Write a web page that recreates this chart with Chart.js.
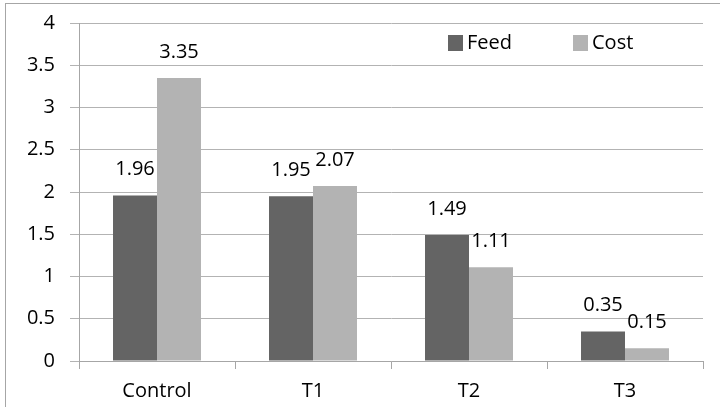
<!DOCTYPE html>
<html lang="en">
<head>
    <meta charset="UTF-8">
    <title>Feed and Cost</title>
    <script src="https://cdn.jsdelivr.net/npm/chart.js"></script>
    <style>
        * { margin: 0; padding: 0; box-sizing: border-box; }
        body { background: #fff; width: 720px; height: 407px; overflow: hidden; }
        canvas { display: block; }
    </style>
</head>
<body>
<canvas id="chart" width="720" height="407"></canvas>
<script>
    const categories = ['Control', 'T1', 'T2', 'T3'];
    const feedValues = [1.96, 1.95, 1.49, 0.35];
    const costValues = [3.35, 2.07, 1.11, 0.15];
    const seriesNames = ['Feed', 'Cost'];
    const seriesColors = ['#646464', '#b3b3b3'];

    const FONT = '"Open Sans", "Liberation Sans", sans-serif';
    const SIZE = 20;

    // frame round the whole chart
    const framePlugin = {
        id: 'frame',
        beforeDraw(chart) {
            const ctx = chart.ctx;
            ctx.save();
            ctx.strokeStyle = '#a6a6a6';
            ctx.lineWidth = 1;
            ctx.strokeRect(5.5, 3.5, 800, 800);
            ctx.restore();
        }
    };

    // value labels above each bar
    const valueLabels = {
        id: 'valueLabels',
        afterDatasetsDraw(chart) {
            const ctx = chart.ctx;
            ctx.save();
            ctx.font = SIZE + 'px ' + FONT;
            ctx.fillStyle = '#000';
            ctx.textAlign = 'center';
            ctx.textBaseline = 'middle';
            chart.data.datasets.forEach((ds, i) => {
                chart.getDatasetMeta(i).data.forEach((bar, j) => {
                    ctx.fillText(ds.data[j].toFixed(2), bar.x, bar.y - 26);
                });
            });
            ctx.restore();
        }
    };

    // legend inside the plot, top right
    const insideLegend = {
        id: 'insideLegend',
        afterDraw(chart) {
            const ctx = chart.ctx;
            const xs = [448, 573];
            ctx.save();
            ctx.font = SIZE + 'px ' + FONT;
            ctx.textBaseline = 'middle';
            ctx.textAlign = 'left';
            seriesNames.forEach((name, i) => {
                ctx.fillStyle = seriesColors[i];
                ctx.fillRect(xs[i], 35, 15, 16);
                ctx.fillStyle = '#000';
                ctx.fillText(name, xs[i] + 19, 43);
            });
            ctx.restore();
        }
    };

    new Chart(document.getElementById('chart'), {
        type: 'bar',
        data: {
            labels: categories,
            datasets: [
                { label: seriesNames[0], data: feedValues, backgroundColor: seriesColors[0] },
                { label: seriesNames[1], data: costValues, backgroundColor: seriesColors[1] }
            ]
        },
        options: {
            responsive: false,
            animation: false,
            devicePixelRatio: 1,
            layout: { padding: { left: 0, right: 17, top: 23, bottom: 0 } },
            datasets: { bar: { categoryPercentage: 0.564, barPercentage: 1.0 } },
            plugins: {
                legend: { display: false },
                tooltip: { enabled: false }
            },
            scales: {
                x: {
                    grid: { offset: true, drawOnChartArea: false, drawTicks: true, tickLength: 8, color: '#a6a6a6' },
                    border: { color: '#a6a6a6' },
                    ticks: { color: '#000', font: { family: FONT, size: SIZE }, padding: 10 },
                    afterFit(scale) {
                        scale.height = 46;
                        scale.paddingLeft = 0;
                        scale.paddingRight = 0;
                    }
                },
                y: {
                    min: 0,
                    max: 4,
                    ticks: {
                        stepSize: 0.5,
                        color: '#000',
                        font: { family: FONT, size: SIZE },
                        padding: 15,
                        callback: v => String(v)
                    },
                    grid: { color: '#b3b3b3', tickLength: 9 },
                    border: { color: '#a6a6a6' },
                    afterFit(scale) {
                        scale.width = 79;
                        scale.paddingTop = 0;
                        scale.paddingBottom = 0;
                    }
                }
            }
        },
        plugins: [framePlugin, valueLabels, insideLegend]
    });
</script>
</body>
</html>
